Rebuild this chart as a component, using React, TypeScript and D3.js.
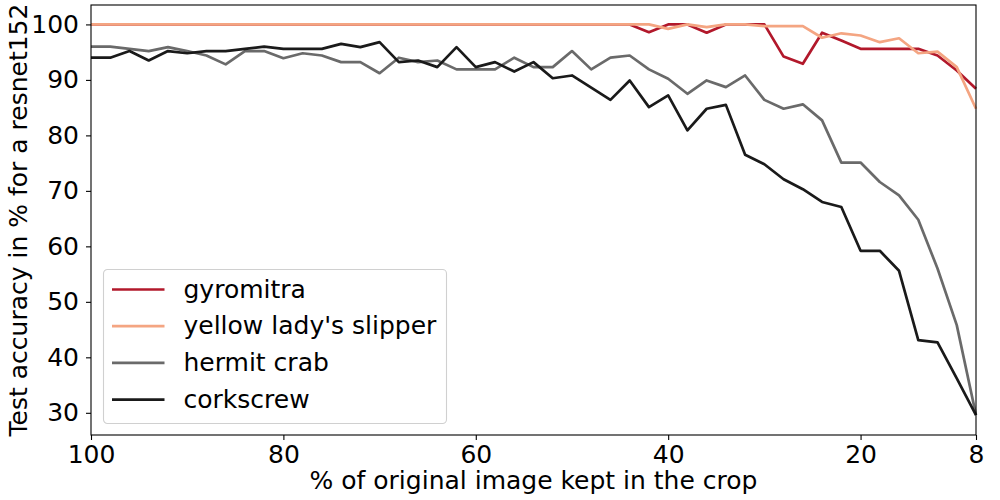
import React, { useEffect, useRef } from "react";
import * as d3 from "d3";

// % of original image kept in the crop
const cropPercent = [
  100, 98, 96, 94, 92, 90, 88, 86, 84, 82, 80, 78, 76, 74, 72, 70, 68, 66, 64, 62, 60, 58, 56, 54,
  52, 50, 48, 46, 44, 42, 40, 38, 36, 34, 32, 30, 28, 26, 24, 22, 20, 18, 16, 14, 12, 10, 8,
];

const gyromitra = [
  100, 100, 100, 100, 100, 100, 100, 100, 100, 100, 100, 100, 100, 100, 100, 100, 100, 100, 100, 100,
  100, 100, 100, 100, 100, 100, 100, 100, 100, 98.6, 100, 100, 98.5, 100, 100, 100, 94.2, 92.9, 98.5,
  97.1, 95.6, 95.6, 95.6, 95.6, 94.4, 91.7, 88.4,
];

const ladySlipper = [
  100, 100, 100, 100, 100, 100, 100, 100, 100, 100, 100, 100, 100, 100, 100, 100, 100, 100, 100, 100,
  100, 100, 100, 100, 100, 100, 100, 100, 100, 100, 99.2, 100, 99.5, 100, 100, 99.7, 99.7, 99.7, 97.6,
  98.4, 98.0, 96.8, 97.5, 94.8, 95.1, 92.3, 84.8,
];

const hermitCrab = [
  96.0, 96.0, 95.6, 95.2, 95.9, 95.2, 94.4, 92.8, 95.2, 95.2, 93.9, 94.8, 94.4, 93.2, 93.2, 91.2, 94.0,
  93.2, 93.5, 91.9, 91.9, 91.9, 94.0, 92.3, 92.3, 95.2, 91.9, 94.0, 94.4, 91.9, 90.2, 87.5, 89.9, 88.7,
  90.8, 86.4, 84.8, 85.6, 82.7, 75.1, 75.1, 71.6, 69.2, 64.8, 56.0, 45.8, 29.6,
];

const corkscrew = [
  94.0, 94.0, 95.2, 93.5, 95.2, 94.8, 95.2, 95.2, 95.6, 96.0, 95.6, 95.6, 95.6, 96.5, 95.9, 96.8, 93.2,
  93.5, 92.3, 95.9, 92.3, 93.2, 91.5, 93.2, 90.3, 90.8, 88.6, 86.4, 89.9, 85.1, 87.2, 80.9, 84.8, 85.5,
  76.5, 74.8, 72.1, 70.3, 68.0, 67.1, 59.2, 59.2, 55.6, 43.1, 42.7, 36.2, 29.6,
];

const seriesNames = ["gyromitra", "yellow lady's slipper", "hermit crab", "corkscrew"];
const seriesColors = ["#b2182b", "#f4a582", "#6a6a6a", "#1a1a1a"];

const xTicks = [100, 80, 60, 40, 20, 8];
const yTicks = [30, 40, 50, 60, 70, 80, 90, 100];

const App = () => {
  const chartRef = useRef<SVGSVGElement | null>(null);

  useEffect(() => {
    const width = 1000;
    const height = 500;
    const margin = { top: 5, right: 24, bottom: 65, left: 91 };
    const font = "DejaVu Sans, sans-serif";
    const lineWidth = 2.7;

    const svg = d3.select(chartRef.current);
    svg.selectAll("*").remove();

    const xScale = d3.scaleLinear().domain([100, 8]).range([margin.left, width - margin.right]);
    const yScale = d3.scaleLinear().domain([26.0, 103.5]).range([height - margin.bottom, margin.top]);

    const allSeries = [gyromitra, ladySlipper, hermitCrab, corkscrew];

    // Lines
    const line = d3
      .line<number>()
      .x((d, i) => xScale(cropPercent[i]))
      .y((d) => yScale(d));

    allSeries.forEach((values, k) => {
      svg
        .append("path")
        .datum(values)
        .attr("d", line)
        .attr("fill", "none")
        .attr("stroke", seriesColors[k])
        .attr("stroke-width", lineWidth)
        .attr("stroke-linejoin", "round");
    });

    // Axes
    const xAxis = svg
      .append("g")
      .attr("transform", `translate(0, ${height - margin.bottom})`)
      .call(d3.axisBottom(xScale).tickValues(xTicks).tickFormat(d3.format("d")).tickSize(5).tickPadding(5).tickSizeOuter(0));

    const yAxis = svg
      .append("g")
      .attr("transform", `translate(${margin.left}, 0)`)
      .call(d3.axisLeft(yScale).tickValues(yTicks).tickSize(5).tickPadding(7).tickSizeOuter(0));

    [xAxis, yAxis].forEach((g) => {
      g.select(".domain").remove();
      g.selectAll("line").attr("stroke", "#000").attr("stroke-width", 1.1);
      g.selectAll("text").attr("font-family", font).attr("font-size", 25).attr("fill", "#000");
    });

    // Frame
    svg
      .append("rect")
      .attr("x", margin.left)
      .attr("y", margin.top)
      .attr("width", width - margin.left - margin.right)
      .attr("height", height - margin.top - margin.bottom)
      .attr("fill", "none")
      .attr("stroke", "#000")
      .attr("stroke-width", 1.1);

    // Axis labels
    svg
      .append("text")
      .attr("x", (margin.left + width - margin.right) / 2)
      .attr("y", 489)
      .attr("text-anchor", "middle")
      .attr("font-family", font)
      .attr("font-size", 25)
      .text("% of original image kept in the crop");

    svg
      .append("text")
      .attr("transform", `translate(27, ${(margin.top + height - margin.bottom) / 2}) rotate(-90)`)
      .attr("text-anchor", "middle")
      .attr("font-family", font)
      .attr("font-size", 25)
      .text("Test accuracy in % for a resnet152");

    // Legend
    const legend = svg.append("g").attr("transform", "translate(103.5, 269.5)");
    legend
      .append("rect")
      .attr("width", 343)
      .attr("height", 154)
      .attr("rx", 4)
      .attr("fill", "#fff")
      .attr("fill-opacity", 0.8)
      .attr("stroke", "#d0d0d0")
      .attr("stroke-width", 1.1);

    seriesNames.forEach((name, k) => {
      const y = 20 + k * 36.7;
      legend
        .append("line")
        .attr("x1", 8.5)
        .attr("x2", 61)
        .attr("y1", y)
        .attr("y2", y)
        .attr("stroke", seriesColors[k])
        .attr("stroke-width", lineWidth);
      legend
        .append("text")
        .attr("x", 80)
        .attr("y", y + 8)
        .attr("font-family", font)
        .attr("font-size", 25)
        .text(name);
    });
  }, []);

  return (
    <svg
      ref={chartRef}
      width={1000}
      height={500}
      style={{ position: "absolute", left: 0, top: 0, background: "#fff" }}
    ></svg>
  );
};

export default App;
